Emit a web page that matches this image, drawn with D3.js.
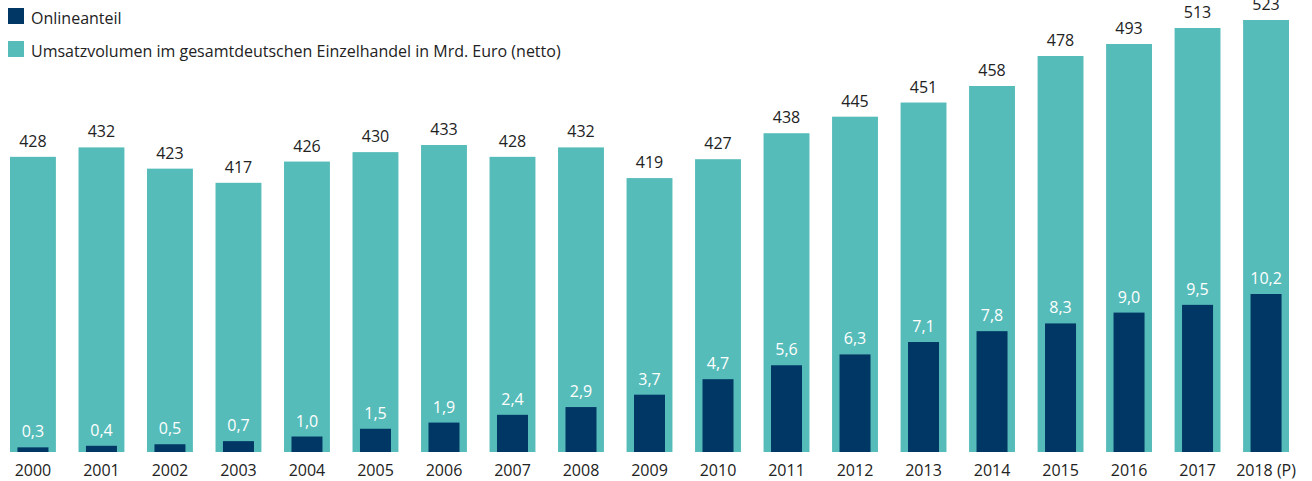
<!DOCTYPE html>
<html>
<head>
<meta charset="utf-8">
<script src="https://cdn.jsdelivr.net/npm/d3@7"></script>
<style>
    body { margin: 0; background: #fff; }
    svg { display: block; font-family: "Open Sans", sans-serif; }
</style>
</head>
<body>
<div id="chart"></div>
<script>
const years = ["2000", "2001", "2002", "2003", "2004", "2005", "2006", "2007", "2008", "2009",
    "2010", "2011", "2012", "2013", "2014", "2015", "2016", "2017", "2018 (P)"];
const volume = [428, 432, 423, 417, 426, 430, 433, 428, 432, 419, 427, 438, 445, 451, 458, 478, 493, 513, 523];
const online = [0.3, 0.4, 0.5, 0.7, 1.0, 1.5, 1.9, 2.4, 2.9, 3.7, 4.7, 5.6, 6.3, 7.1, 7.8, 8.3, 9.0, 9.5, 10.2];
const legendLabels = ["Onlineanteil", "Umsatzvolumen im gesamtdeutschen Einzelhandel in Mrd. Euro (netto)"];

const width = 1312, height = 481;
const baseline = 452;
const tealColor = "#56bcb9", navyColor = "#003764", textColor = "#222";

const data = years.map((y, i) => ({ year: y, vol: volume[i], online: online[i] }));

const svg = d3.select("#chart").append("svg")
    .attr("width", width)
    .attr("height", height);

const x = d3.scaleBand()
    .domain(years)
    .range([10, 1289])
    .paddingInner(0.33)
    .paddingOuter(0);

// the original is not drawn to scale at the top end, so the volume scale is compressed above 458
const yVol = d3.scaleLinear()
    .domain([303, 458, 478, 523])
    .range([baseline, 86, 56, 20]);

const yOnline = d3.scaleLinear()
    .domain([0, 10.2])
    .range([baseline, 294]);

const de = d3.formatLocale({ decimal: ",", thousands: ".", grouping: [3], currency: ["", " €"] });
const fmt1 = de.format(".1f");

const bw = x.bandwidth();
const innerW = Math.round(bw * 0.67);

// total volume bars
svg.selectAll(".vol")
    .data(data)
    .enter().append("rect")
    .attr("class", "vol")
    .attr("x", d => x(d.year))
    .attr("y", d => yVol(d.vol))
    .attr("width", bw)
    .attr("height", d => baseline - yVol(d.vol))
    .attr("fill", tealColor);

svg.selectAll(".vol-label")
    .data(data)
    .enter().append("text")
    .attr("class", "vol-label")
    .attr("x", d => x(d.year) + bw / 2)
    .attr("y", d => yVol(d.vol) - 10)
    .attr("text-anchor", "middle")
    .attr("font-size", 16)
    .attr("fill", textColor)
    .text(d => d.vol);

// online share bars
svg.selectAll(".online")
    .data(data)
    .enter().append("rect")
    .attr("class", "online")
    .attr("x", d => x(d.year) + (bw - innerW) / 2)
    .attr("y", d => yOnline(d.online))
    .attr("width", innerW)
    .attr("height", d => baseline - yOnline(d.online))
    .attr("fill", navyColor);

svg.selectAll(".online-label")
    .data(data)
    .enter().append("text")
    .attr("class", "online-label")
    .attr("x", d => x(d.year) + bw / 2)
    .attr("y", d => yOnline(d.online) - 10)
    .attr("text-anchor", "middle")
    .attr("font-size", 16)
    .attr("fill", "#fff")
    .text(d => fmt1(d.online));

// x axis
const xAxis = svg.append("g")
    .attr("transform", "translate(0," + baseline + ")")
    .call(d3.axisBottom(x).tickSize(0).tickPadding(13));
xAxis.select(".domain").remove();
xAxis.selectAll("text")
    .attr("font-family", "Open Sans, sans-serif")
    .attr("font-size", 16)
    .attr("fill", textColor);

// legend
const legend = svg.append("g");
const legendColors = [navyColor, tealColor];
legendLabels.forEach((label, i) => {
    const g = legend.append("g").attr("transform", "translate(8," + (8 + i * 33) + ")");
    g.append("rect")
        .attr("width", 16)
        .attr("height", 16)
        .attr("fill", legendColors[i]);
    g.append("text")
        .attr("x", 23)
        .attr("y", 16)
        .attr("font-size", 16)
        .attr("fill", textColor)
        .text(label);
});
</script>
</body>
</html>
